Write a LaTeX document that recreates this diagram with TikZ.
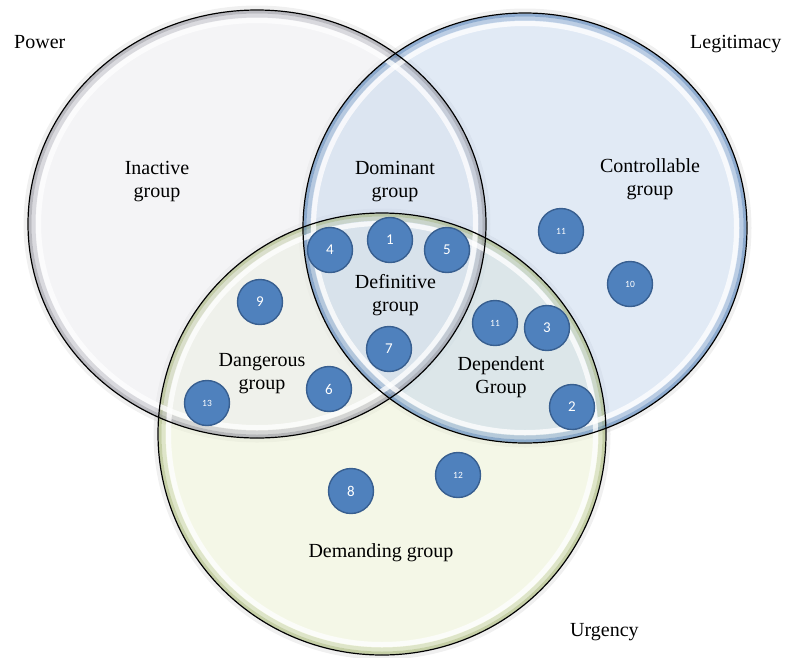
\documentclass[tikz,border=0pt]{standalone}
\usepackage{fontspec}
\setmainfont{Liberation Serif}
\newfontfamily\numfont{Carlito}
\definecolor{pfill}{HTML}{EAEAEE}
\definecolor{prim}{HTML}{8A8A94}
\definecolor{lfill}{HTML}{C3D5EC}
\definecolor{lrim}{HTML}{4A78B0}
\definecolor{ufill}{HTML}{EAF0D0}
\definecolor{urim}{HTML}{9EAE70}
\definecolor{nblue}{HTML}{4F81BD}
\definecolor{nborder}{HTML}{385F90}
\tikzset{
  setfill/.style={fill opacity=0.5},
  rimdark/.style={line width=3pt, draw opacity=0.55},
  rimsoft/.style={line width=4pt, draw opacity=0.25},
  hiband/.style={draw=white, line width=5pt, draw opacity=0.75},
  shadowline/.style={draw=black, line width=4pt, draw opacity=0.06},
  outline/.style={draw=black, line width=1.2pt},
  num/.style={circle, fill=nblue, draw=nborder, line width=1.4pt, minimum size=45pt, inner sep=0pt, text=white, font=\numfont\fontsize{15}{15}\selectfont},
  numsmall/.style={num, font=\numfont\fontsize{9.5}{9.5}\selectfont},
  lbl/.style={align=center, inner sep=0pt, font=\fontsize{20}{23}\selectfont, text=black},
}
\begin{document}
\begin{tikzpicture}[x=1pt, y=-1pt]
\useasboundingbox (0,0) rectangle (790,657);
% faint outer shadows
\draw[shadowline] (382,434) ellipse [x radius=226.5, y radius=223.5];
\draw[shadowline] (257,224) ellipse [x radius=231.5, y radius=216.5];
\draw[shadowline] (525,228) ellipse [x radius=224.5, y radius=217.5];
% set areas
\fill[ufill, setfill] (382,434) ellipse [x radius=224, y radius=221];
\fill[pfill, setfill] (257,224) ellipse [x radius=229, y radius=214];
\fill[lfill, setfill] (525,228) ellipse [x radius=222, y radius=215];
% bevel rims
\draw[urim, rimdark] (382,434) ellipse [x radius=222, y radius=219];
\draw[prim, rimdark] (257,224) ellipse [x radius=227, y radius=212];
\draw[lrim, rimdark] (525,228) ellipse [x radius=220, y radius=213];
\draw[urim, rimsoft] (382,434) ellipse [x radius=218.5, y radius=215.5];
\draw[prim, rimsoft] (257,224) ellipse [x radius=223.5, y radius=208.5];
\draw[lrim, rimsoft] (525,228) ellipse [x radius=216.5, y radius=209.5];
\draw[hiband] (382,434) ellipse [x radius=213.5, y radius=210.5];
\draw[hiband] (257,224) ellipse [x radius=218.5, y radius=203.5];
\draw[hiband] (525,228) ellipse [x radius=211.5, y radius=204.5];
% outlines
\draw[outline] (382,434) ellipse [x radius=224, y radius=221];
\draw[outline] (257,224) ellipse [x radius=229, y radius=214];
\draw[outline] (525,228) ellipse [x radius=222, y radius=215];
% set names
\node[lbl, anchor=base west] (power) at (14,48) {Power};
\node[lbl, anchor=base west] (legit) at (690,48) {Legitimacy};
\node[lbl, anchor=base west] (urg) at (570,636) {Urgency};
% group labels
\node[lbl] (inactive) at (157,182) {Inactive\\group};
\node[lbl] (dominant) at (395,182) {Dominant\\group};
\node[lbl] (control) at (650,179) {Controllable\\group};
\node[lbl] (definitive) at (395.5,295) {Definitive\\group};
\node[lbl] (danger) at (262,374) {Dangerous\\group};
\node[lbl] (depend) at (501,377) {Dependent\\Group};
\node[lbl, anchor=base] (demand) at (381,557) {Demanding group};
% stakeholders
\node[num] (n1) at (390,240) {1};
\node[num] (n4) at (330,250) {4};
\node[num] (n5) at (447,250) {5};
\node[num] (n9) at (260,302) {9};
\node[num] (n7) at (389,349) {7};
\node[num] (n6) at (329,389) {6};
\node[numsmall] (n13) at (207,403) {13};
\node[numsmall] (n11b) at (495,323) {11};
\node[num] (n3) at (547,328) {3};
\node[num] (n2) at (572,407) {2};
\node[numsmall] (n11a) at (561,231) {11};
\node[numsmall] (n10) at (630,284) {10};
\node[num] (n8) at (351,491) {8};
\node[numsmall] (n12) at (458,475) {12};
\end{tikzpicture}
\end{document}
